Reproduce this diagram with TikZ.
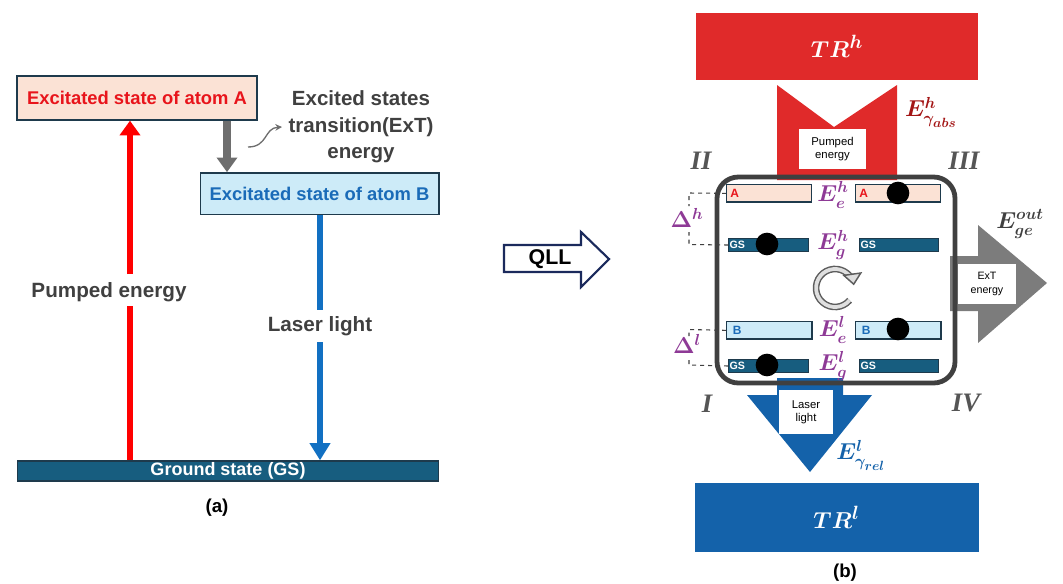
\documentclass[tikz,border=0pt]{standalone}
\usepackage{fontspec}
\usepackage{amsmath,bm}
\setmainfont{Liberation Sans}
\newfontfamily\romfont{Liberation Serif}
\DeclareMathSizes{16}{16}{13}{10}
\DeclareMathSizes{17}{17}{12.5}{10}
\DeclareMathSizes{19}{19}{15}{12}
\usetikzlibrary{arrows.meta,calc}
\definecolor{peach}{HTML}{FBE2D5}
\definecolor{lblue}{HTML}{CDEBF8}
\definecolor{redtxt}{HTML}{E8141B}
\definecolor{bluetxt}{HTML}{1A6BB8}
\definecolor{gsteal}{HTML}{175D7F}
\definecolor{edge}{HTML}{1E3A4C}
\definecolor{redarr}{HTML}{FF0000}
\definecolor{bluearr}{HTML}{1270C2}
\definecolor{grayarr}{HTML}{6E6E6E}
\definecolor{darktxt}{HTML}{404040}
\definecolor{trred}{HTML}{E02A2A}
\definecolor{dred}{HTML}{A31515}
\definecolor{purp}{HTML}{8E3A96}
\definecolor{trblue}{HTML}{1462AA}
\definecolor{navy}{HTML}{1B2A5C}
\definecolor{romgray}{HTML}{555555}
\tikzset{
  lvl/.style={draw=edge, line width=1pt, inner sep=0pt, anchor=north west},
  lvltxt/.style={font=\bfseries\fontsize{9}{10}\selectfont, inner sep=1pt},
  gstxt/.style={text=white, font=\bfseries\fontsize{8}{9}\selectfont, inner sep=1pt},
  dot/.style={circle, fill=black, minimum size=17pt, inner sep=0pt},
  elab/.style={text=purp, font=\boldmath\fontsize{16}{18}\selectfont, inner sep=0pt},
  rom/.style={text=romgray, font=\romfont\bfseries\itshape\fontsize{20}{22}\selectfont},
  wbox/.style={fill=white, inner sep=0pt, align=center, font=\fontsize{8.5}{10}\selectfont, text=black},
  dashline/.style={dashed, darktxt, line width=0.8pt},
  bigbox/.style={draw=edge, line width=1pt, inner sep=0pt, font=\bfseries\fontsize{13.8}{16}\selectfont},
  alabel/.style={text=darktxt, font=\bfseries\fontsize{15.5}{18}\selectfont, fill=white, inner sep=3pt},
}
\begin{document}
\begin{tikzpicture}[x=0.75pt,y=-0.75pt]
\useasboundingbox (0,0) rectangle (1063,583);
% ---------------- panel (a) ----------------
\node[bigbox, fill=peach, minimum width=180pt, minimum height=33pt, text=redtxt] (A) at (137,98) {Excitated state of atom A};
\node[bigbox, fill=lblue, minimum width=179pt, minimum height=31pt, text=bluetxt] (B) at (319.5,193.5) {Excitated state of atom B};
\node[bigbox, fill=gsteal, minimum width=316pt, minimum height=15pt, text=white, font=\bfseries\fontsize{13.5}{15}\selectfont] (G) at (228,471) {Ground state (GS)};
\node[text=darktxt, font=\bfseries\fontsize{15.4}{20}\selectfont, align=center] (ExT) at (361,127)
  {Excited states\\transition(ExT)\\energy};
\coordinate (ca) at (248,147);
\coordinate (cb) at (282,127);
\draw[grayarr, line width=1pt, -{Stealth[length=5pt,width=5pt]}] (ca) .. controls (268,147) and (264,128) .. (cb);
\draw[grayarr, line width=5.5pt, -{Triangle[length=11pt,width=15pt]}] (A.south -| 227,0) -- (B.north -| 227,0);
\node[alabel] (pe) at (109,292) {Pumped energy};
\node[alabel] (ll) at (320,326) {Laser light};
\draw[redarr, line width=4.5pt] (G.north -| 130,0) -- (130,306);
\draw[redarr, line width=4.5pt, -{Triangle[length=11pt,width=15pt]}] (130,274) -- (A.south -| 130,0);
\draw[bluearr, line width=4pt] (B.south -| 320,0) -- (320,310);
\draw[bluearr, line width=4pt, -{Triangle[length=13pt,width=15pt]}] (320,342) -- (G.north -| 320,0);
\node[font=\bfseries\fontsize{14}{16}\selectfont] (la) at (217,508) {(a)};
% ---------------- QLL arrow ----------------
\draw[navy, line width=1.6pt, fill=white] (504,245) -- (581,245) -- (581,232) -- (609,259) -- (581,287) -- (581,272) -- (504,272) -- cycle;
\node[font=\bfseries\fontsize{16}{18}\selectfont] (qll) at (550,259) {QLL};
% ---------------- panel (b) ----------------
\node[fill=trred, minimum width=212pt, minimum height=50pt, inner sep=0pt, text=white,
  font=\boldmath\fontsize{19}{22}\selectfont] (TRh) at (837,46.5) {$TR^{h}$};
\node[fill=trblue, minimum width=213pt, minimum height=52pt, inner sep=0pt, text=white,
  font=\boldmath\fontsize{19}{22}\selectfont] (TRl) at (836.5,517.5) {$TR^{l}$};
% red pump shape
\fill[trred] (777,85) -- (834,127) -- (897,85) -- (897,180) -- (777,180) -- cycle;
\node[wbox, minimum width=50pt, minimum height=30pt] (pump) at (832.5,149) {Pumped\\energy};
\node[text=dred, font=\boldmath\fontsize{17}{18}\selectfont, inner sep=0pt] (Eabs) at (931,112) {$E^{h}_{\gamma_{abs}}$};
% gray ExT arrow
\fill[grayarr!90] (950,256) -- (978,256) -- (978,225) -- (1047,283) -- (978,343) -- (978,311) -- (950,311) -- cycle;
\node[wbox, minimum width=43pt, minimum height=30pt, font=\fontsize{8}{10}\selectfont] (ext) at (987,284) {ExT\\energy};
\node[text=darktxt, font=\boldmath\fontsize{17}{18}\selectfont, inner sep=0pt] (Eout) at (1020,224) {$E^{out}_{ge}$};
% blue laser arrow
\fill[trblue] (777,378) -- (843,378) -- (843,395) -- (872,395) -- (810,472) -- (747,395) -- (777,395) -- cycle;
\node[wbox, minimum width=40pt, minimum height=33pt] (laser) at (806,412) {Laser\\light};
\node[text=trblue, font=\boldmath\fontsize{17}{18}\selectfont, inner sep=0pt] (Erel) at (861,455) {$E^{l}_{\gamma_{rel}}$};
% frame
\draw[darktxt, line width=3.6pt, rounded corners=16pt] (717,177) rectangle (955,383);
% levels
\node[lvl, fill=peach, minimum width=63.5pt, minimum height=13pt] (Al) at (726,184) {};
\node[lvl, fill=peach, minimum width=63.5pt, minimum height=13pt] (Ar) at (855,184) {};
\node[lvl, fill=gsteal, minimum width=60pt, minimum height=9.5pt] (Gl) at (728,238) {};
\node[lvl, fill=gsteal, minimum width=59pt, minimum height=9.5pt] (Gr) at (859,238) {};
\node[lvl, fill=lblue, minimum width=64pt, minimum height=13pt] (Bl) at (726,321) {};
\node[lvl, fill=lblue, minimum width=64pt, minimum height=13pt] (Br) at (855,321) {};
\node[lvl, fill=gsteal, minimum width=60pt, minimum height=9.5pt] (Gll) at (728,359) {};
\node[lvl, fill=gsteal, minimum width=59pt, minimum height=9.5pt] (Glr) at (859,359) {};
\node[lvltxt, text=redtxt, anchor=west] (tA1) at ([xshift=2pt]Al.west) {A};
\node[lvltxt, text=redtxt, anchor=west] (tA2) at ([xshift=2pt]Ar.west) {A};
\node[lvltxt, text=bluetxt, anchor=west] (tB1) at ([xshift=4pt]Bl.west) {B};
\node[lvltxt, text=bluetxt, anchor=west] (tB2) at ([xshift=4pt]Br.west) {B};
\node[gstxt, anchor=west] (tG1) at (Gl.west) {GS};
\node[gstxt, anchor=west] (tG2) at (Gr.west) {GS};
\node[gstxt, anchor=west] (tG3) at (Gll.west) {GS};
\node[gstxt, anchor=west] (tG4) at (Glr.west) {GS};
\node[dot] (d1) at (898,193) {};
\node[dot] (d2) at (767,244) {};
\node[dot] (d3) at (898,329) {};
\node[dot] (d4) at (767,365) {};
\node[elab] (Eeh) at (833,195) {$E^{h}_{e}$};
\node[elab] (Egh) at (833,245) {$E^{h}_{g}$};
\node[elab] (Eel) at (833,330) {$E^{l}_{e}$};
\node[elab] (Egl) at (833,366) {$E^{l}_{g}$};
% cycle arrow (centre about (835,288))
\coordinate (cyc) at (849.6,300.2);
\draw[draw=darktxt!85, line width=1.1pt, double=gray!25, double distance=2.8pt,
  -{Triangle[length=9pt,width=15pt,open,fill=gray!25]}]
  (cyc) arc[start angle=-40, end angle=-352, radius=14.25pt];
% delta brackets
\draw[dashline] (Al.west) -- (689,193) -- (689,206);
\draw[dashline] (Gl.west) -- (689,244.5) -- (689,232);
\node[elab] (Dh) at (687,218) {$\Delta^{h}$};
\draw[dashline] (Bl.west) -- (689,329.5) -- (689,336);
\draw[dashline] (Gll.west) -- (689,365) -- (689,358);
\node[elab] (Dl) at (687,344) {$\Delta^{l}$};
% roman numerals
\node[rom] (r2) at (701,161) {II};
\node[rom] (r3) at (964,161) {III};
\node[rom] (r1) at (707,404) {I};
\node[rom] (r4) at (966,403) {IV};
\node[font=\bfseries\fontsize{14}{16}\selectfont] (lb) at (845,573) {(b)};
\end{tikzpicture}
\end{document}
